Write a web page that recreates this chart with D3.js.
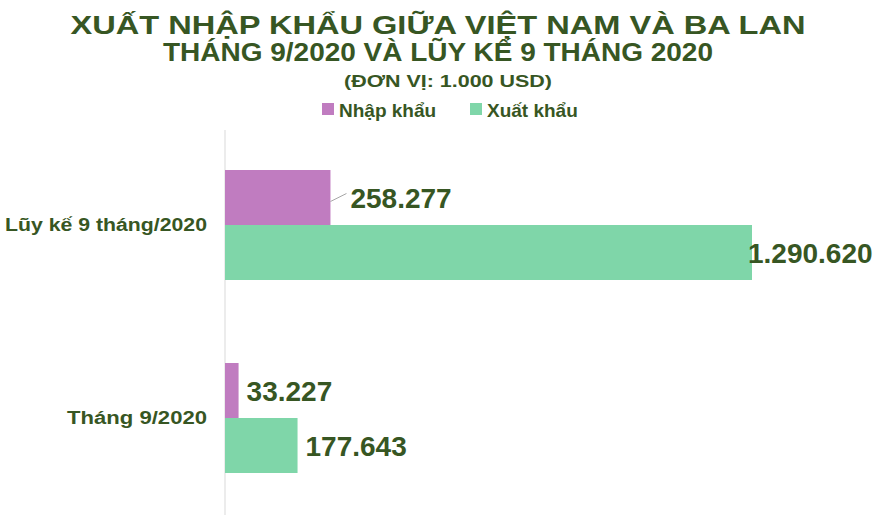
<!DOCTYPE html><html><head><meta charset="utf-8"><script src="https://cdn.jsdelivr.net/npm/d3@7"></script>
<style>body{margin:0;background:#fff}text{font-family:"Liberation Sans",Arial,sans-serif;font-weight:bold;fill:#375623}</style></head><body>
<svg id="c" width="877" height="520"></svg>
<script>
const categories=["Lũy kế 9 tháng/2020","Tháng 9/2020"];
const seriesNames=["Nhập khẩu","Xuất khẩu"];
const importVals=[258277,33227];
const exportVals=[1290620,177643];
const colors=["#c07cc0","#7fd6a9"];
const fmt=v=>d3.format(",")(v).replace(/,/g,".");
const svg=d3.select("#c");
const x=d3.scaleLinear().domain([0,1290620]).range([225,752]);
const y=d3.scaleBand().domain(categories).range([170,473]).paddingInner(83/193).paddingOuter(0);
const y1=d3.scaleBand().domain(seriesNames).range([0,y.bandwidth()]);
const t=[["XUẤT NHẬP KHẨU GIỮA VIỆT NAM VÀ BA LAN",735],["THÁNG 9/2020 VÀ LŨY KẾ 9 THÁNG 2020",550]];
t.forEach(([s,w],i)=>svg.append("text").attr("x",438).attr("y",34+i*27).attr("text-anchor","middle").attr("font-size",25).attr("textLength",w).attr("lengthAdjust","spacingAndGlyphs").text(s));
svg.append("text").attr("x",448).attr("y",87).attr("text-anchor","middle").attr("font-size",17).attr("textLength",208).attr("lengthAdjust","spacingAndGlyphs").text("(ĐƠN VỊ: 1.000 USD)");
const lg=[[322,"Nhập khẩu"],[470,"Xuất khẩu"]];
lg.forEach(([lx,n],i)=>{svg.append("rect").attr("x",lx).attr("y",103).attr("width",12).attr("height",12).attr("fill",colors[i]);
svg.append("text").attr("x",lx+17).attr("y",117).attr("font-size",19).text(n);});
svg.append("line").attr("x1",225).attr("x2",225).attr("y1",130).attr("y2",515).attr("stroke","#d9d9d9");
const labW=[202,140];
categories.forEach((c,ci)=>{
 svg.append("text").attr("x",207).attr("y",y(c)+y.bandwidth()/2+6).attr("text-anchor","end").attr("font-size",18).attr("textLength",labW[ci]).attr("lengthAdjust","spacingAndGlyphs").text(c);
 [importVals,exportVals].forEach((vals,si)=>{
  const v=vals[ci],yy=y(c)+y1(seriesNames[si]);
  svg.append("rect").attr("x",x(0)).attr("y",yy).attr("width",x(v)-x(0)).attr("height",y1.bandwidth()).attr("fill",colors[si]);
  let lx=x(v)+8;
  if(ci===0&&si===0){lx=x(v)+20;svg.append("line").attr("x1",x(v)).attr("y1",yy+y1.bandwidth()/2+4).attr("x2",x(v)+16).attr("y2",yy+y1.bandwidth()/2-4).attr("stroke","#a6a6a6");}
  if(ci===0&&si===1)lx=x(v)-4;
  svg.append("text").attr("x",lx).attr("y",yy+y1.bandwidth()/2+10).attr("font-size",28).text(fmt(v));
 });
});
</script></body></html>
